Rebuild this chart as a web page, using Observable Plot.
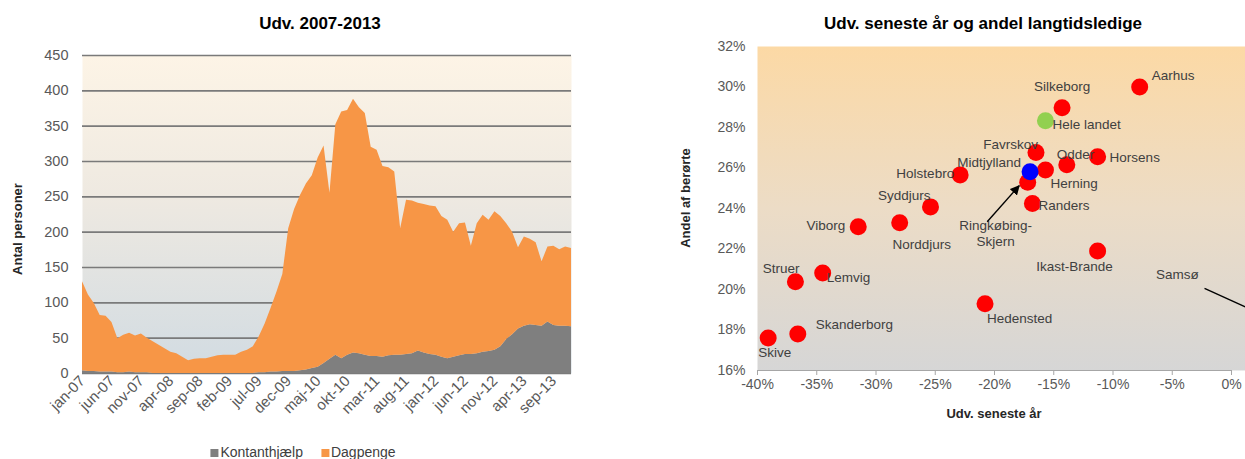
<!DOCTYPE html>
<html><head><meta charset="utf-8">
<script src="https://cdn.jsdelivr.net/npm/d3@7"></script>
<script src="https://cdn.jsdelivr.net/npm/@observablehq/plot@0.6"></script>
<style>
body{margin:0;width:1245px;height:459px;position:relative;background:#fff;font-family:"Liberation Sans",Arial,sans-serif;overflow:hidden}
.abs{position:absolute;white-space:nowrap}
.title{font-weight:bold;font-size:17px;color:#000;transform:translate(-50%,-50%)}
.axt{font-weight:bold;font-size:13px;color:#262626;transform:translate(-50%,-50%)}
.rot{transform:translate(-50%,-50%) rotate(-90deg)}
.legend{font-size:14px;color:#404040;transform:translate(-50%,-50%);display:flex;gap:18px;align-items:center}
.sw{display:inline-block;width:8px;height:8px;margin-right:2px;vertical-align:middle}
</style></head><body>
<div id="left" class="abs" style="left:0;top:40px"></div>
<div id="right" class="abs" style="left:640px;top:20px"></div>
<div class="abs title" style="left:320px;top:24px">Udv. 2007-2013</div>
<div class="abs title" style="left:983px;top:24px">Udv. seneste år og andel langtidsledige</div>
<div class="abs axt rot" style="left:17px;top:229px">Antal personer</div>
<div class="abs axt rot" style="left:685px;top:198px">Andel af berørte</div>
<div class="abs axt" style="left:994px;top:413px">Udv. seneste år</div>
<div class="abs legend" style="left:303px;top:452px" id="legend"></div>
<script>
// ---------- Left chart data ----------
const monthNames = ["jan","feb","mar","apr","maj","jun","jul","aug","sep","okt","nov","dec"];
const tickLabels = ["jan-07","jun-07","nov-07","apr-08","sep-08","feb-09","jul-09","dec-09","maj-10","okt-10","mar-11","aug-11","jan-12","jun-12","nov-12","apr-13","sep-13"];
const seriesNames = ["Kontanthjælp","Dagpenge"];
const kontanthjaelp = [4,3,3,2,2,2,1,1,2,1,1,1,0,0,0,0,0,0,0,0,0,0,0,0,0,0,0,0,0,0,
  1,1,2,2,3,3,3,4,5,7,9,14,20,26,21,26,29,28,26,24,24,23,25,26,26,27,28,32,29,27,
  26,23,21,23,25,27,27,28,30,31,33,38,48,55,63,67,69,68,67,73,68,67,67,66];
const dagpenge = [126,108,96,80,79,70,48,53,55,52,55,49,45,40,35,30,28,23,18,20,21,21,23,25,26,26,26,30,33,38,
  51,69,90,113,137,202,229,248,263,273,296,308,235,326,349,346,359,348,342,296,292,270,266,259,179,218,216,209,210,210,
  210,199,196,177,187,186,153,184,194,186,196,184,164,145,115,126,121,117,91,106,112,108,112,111];
const seriesColors = ["#7f7f7f","#f79646"];

// ---------- Right chart data ----------
const municipalities = ["Aarhus","Silkeborg","Hele landet","Favrskov","Odder","Horsens","Midtjylland","Herning","Holstebro","Ringkøbing-Skjern","Randers","Syddjurs","Norddjurs","Viborg","Ikast-Brande","Lemvig","Struer","Hedensted","Skanderborg","Skive","Samsø"];
const udvikling = [-7.75,-14.3,-15.7,-16.5,-13.9,-11.3,-17.0,-15.7,-22.9,-17.2,-16.8,-25.4,-28.0,-31.5,-11.3,-34.5,-36.8,-20.8,-36.6,-39.1,4.6];
const andelBerorte = [30.0,28.97,28.33,26.76,26.16,26.55,25.82,25.9,25.66,25.3,24.25,24.08,23.3,23.1,21.9,20.82,20.38,19.3,17.8,17.6,18.2];
const kind = ["kommune","kommune","land","kommune","kommune","kommune","region","kommune","kommune","kommune","kommune","kommune","kommune","kommune","kommune","kommune","kommune","kommune","kommune","kommune","kommune"];
const xTicks = [-40,-35,-30,-25,-20,-15,-10,-5,0];
const yTicks = [16,18,20,22,24,26,28,30,32];

// label styling (pixel offsets from the dot)
const labelPlacement = {
  "Aarhus": {anchor:"start", dx:12, dy:-12},
  "Silkeborg": {anchor:"middle", dx:0, dy:-22},
  "Hele landet": {anchor:"start", dx:7, dy:3},
  "Favrskov": {anchor:"end", dx:2, dy:-9},
  "Odder": {anchor:"start", dx:-10, dy:-11},
  "Horsens": {anchor:"start", dx:12, dy:0},
  "Midtjylland": {anchor:"end", dx:-9, dy:-10},
  "Herning": {anchor:"start", dx:5, dy:13},
  "Holstebro": {anchor:"end", dx:-6, dy:-2},
  "Ringkøbing-Skjern": {anchor:"middle", dx:-32, dy:51, text:"Ringkøbing-\nSkjern"},
  "Randers": {anchor:"start", dx:6, dy:1},
  "Syddjurs": {anchor:"end", dx:0, dy:-12},
  "Norddjurs": {anchor:"middle", dx:22, dy:21},
  "Viborg": {anchor:"end", dx:-13, dy:-2},
  "Ikast-Brande": {anchor:"middle", dx:-23, dy:15},
  "Lemvig": {anchor:"start", dx:4, dy:4},
  "Struer": {anchor:"end", dx:4, dy:-14},
  "Hedensted": {anchor:"start", dx:2, dy:14},
  "Skanderborg": {anchor:"start", dx:18, dy:-10},
  "Skive": {anchor:"start", dx:-10, dy:14},
  "Samsø": {anchor:"start", dx:-130, dy:-52}
};
const arrowPlacement = {
  "Ringkøbing-Skjern": {from:[-40,40], to:[-8,4]},
  "Samsø": {from:[-81,-37], to:[-10,-5]}
};
const kindColor = {kommune:"#ff0000", land:"#92d050", region:"#0000ff"};

// ---------- helpers ----------
const FONT = "Liberation Sans, Arial, sans-serif";
function svgOf(node){ return node.tagName.toLowerCase()==="svg" ? node : node.querySelector("svg"); }
function addGradient(svg, id, stops){
  let defs = d3.select(svg).select("defs");
  if (defs.empty()) defs = d3.select(svg).insert("defs", ":first-child");
  const g = defs.append("linearGradient").attr("id", id).attr("x1",0).attr("y1",0).attr("x2",0).attr("y2",1);
  stops.forEach(([o,c]) => g.append("stop").attr("offset", o).attr("stop-color", c));
  return defs;
}

// ---------- Left chart ----------
const months = d3.range(kontanthjaelp.length).map(i => monthNames[i % 12] + "-" + String(7 + Math.floor(i / 12)).padStart(2, "0"));
const areaData = [];
seriesNames.forEach((s, k) => (k === 0 ? kontanthjaelp : dagpenge).forEach((v, i) => areaData.push({i, month: months[i], series: s, value: v})));
const tickIdx = tickLabels.map(l => months.indexOf(l));

const left = Plot.plot({
  width: 600, height: 395,
  marginLeft: 82, marginRight: 29, marginTop: 15, marginBottom: 62,
  style: {fontFamily: FONT, background: "transparent", overflow: "visible"},
  x: {domain: [0, months.length - 1]},
  y: {domain: [0, 450]},
  color: {domain: seriesNames, range: seriesColors},
  marks: [
    Plot.frame({fill: "url(#gradL)", stroke: null}),
    Plot.gridY(d3.range(0, 451, 50), {stroke: "#7a7a7a", strokeOpacity: 1, strokeWidth: 1.6}),
    Plot.areaY(areaData, {x: "i", y: "value", fill: "series", order: seriesNames}),
    Plot.axisY(d3.range(0, 451, 50), {tickSize: 0, tickPadding: 14, fontSize: 14.5, color: "#595959", label: null}),
    Plot.axisX(tickIdx, {tickFormat: i => months[i], tickRotate: -45, tickSize: 0, tickPadding: 5, fontSize: 15, color: "#595959", label: null})
  ]
});
const svgL = svgOf(left);
addGradient(svgL, "gradL", [[0, "#fdf4e6"], [0.45, "#eee9e1"], [1, "#d1dbe2"]]);
document.getElementById("left").appendChild(left);

// ---------- Right chart ----------
const points = municipalities.map((name, i) => ({name, x: udvikling[i], y: andelBerorte[i], kind: kind[i]}));
const labelMarks = points.map(p => {
  const lp = labelPlacement[p.name];
  return Plot.text([p], {x: "x", y: "y", text: d => lp.text || d.name, dx: lp.dx, dy: lp.dy, textAnchor: lp.anchor,
    fontSize: 13.5, fill: "#404040", fontFamily: FONT, lineHeight: 1.18});
});
const right = Plot.plot({
  width: 605, height: 410,
  marginLeft: 117, marginRight: 0, marginTop: 26, marginBottom: 60,
  style: {fontFamily: FONT, background: "transparent"},
  x: {domain: [-40, 1.18]},
  y: {domain: [16, 32]},
  marks: [
    Plot.frame({fill: "url(#gradR)", stroke: null}),
    Plot.ruleY([16], {x1: -40, x2: 0, stroke: "#a6a6a6", strokeWidth: 1.2}),
    Plot.axisX(xTicks, {tickFormat: d => d + "%", tickSize: 5, tickPadding: 4, fontSize: 14, fill: "#595959", stroke: "#a6a6a6", label: null}),
    Plot.axisY(yTicks, {tickFormat: d => d + "%", tickSize: 0, tickPadding: 12, fontSize: 14, fill: "#595959", label: null}),
    Plot.dot(points.filter(p => p.kind === "kommune"), {x: "x", y: "y", r: 8.5, fill: d => kindColor[d.kind], stroke: null, clip: true}),
    Plot.dot(points.filter(p => p.kind !== "kommune"), {x: "x", y: "y", r: 8.5, fill: d => kindColor[d.kind], stroke: null, clip: true}),
    ...labelMarks
  ]
});
const svgR = svgOf(right);
const defsR = addGradient(svgR, "gradR", [[0, "#fcd9a5"], [0.5, "#ecdcc6"], [1, "#d6d6d6"]]);
defsR.append("marker").attr("id", "ahead").attr("viewBox", "0 0 10 10").attr("refX", 9).attr("refY", 5)
  .attr("markerWidth", 7).attr("markerHeight", 7).attr("orient", "auto")
  .append("path").attr("d", "M0,0L10,5L0,10z").attr("fill", "#000");
const sx = right.scale("x"), sy = right.scale("y");
const gA = d3.select(svgR).append("g");
points.filter(p => arrowPlacement[p.name]).forEach(p => {
  const a = arrowPlacement[p.name];
  const px = sx.apply(p.x), py = sy.apply(p.y);
  gA.append("line").attr("x1", px + a.from[0]).attr("y1", py + a.from[1])
    .attr("x2", px + a.to[0]).attr("y2", py + a.to[1])
    .attr("stroke", "#000").attr("stroke-width", 1.4).attr("marker-end", "url(#ahead)");
});
document.getElementById("right").appendChild(right);

// ---------- Legend ----------
const lg = document.getElementById("legend");
seriesNames.forEach((s, k) => {
  const span = document.createElement("span");
  span.innerHTML = `<span class="sw" style="background:${seriesColors[k]}"></span>${s}`;
  lg.appendChild(span);
});
</script>
</body></html>
